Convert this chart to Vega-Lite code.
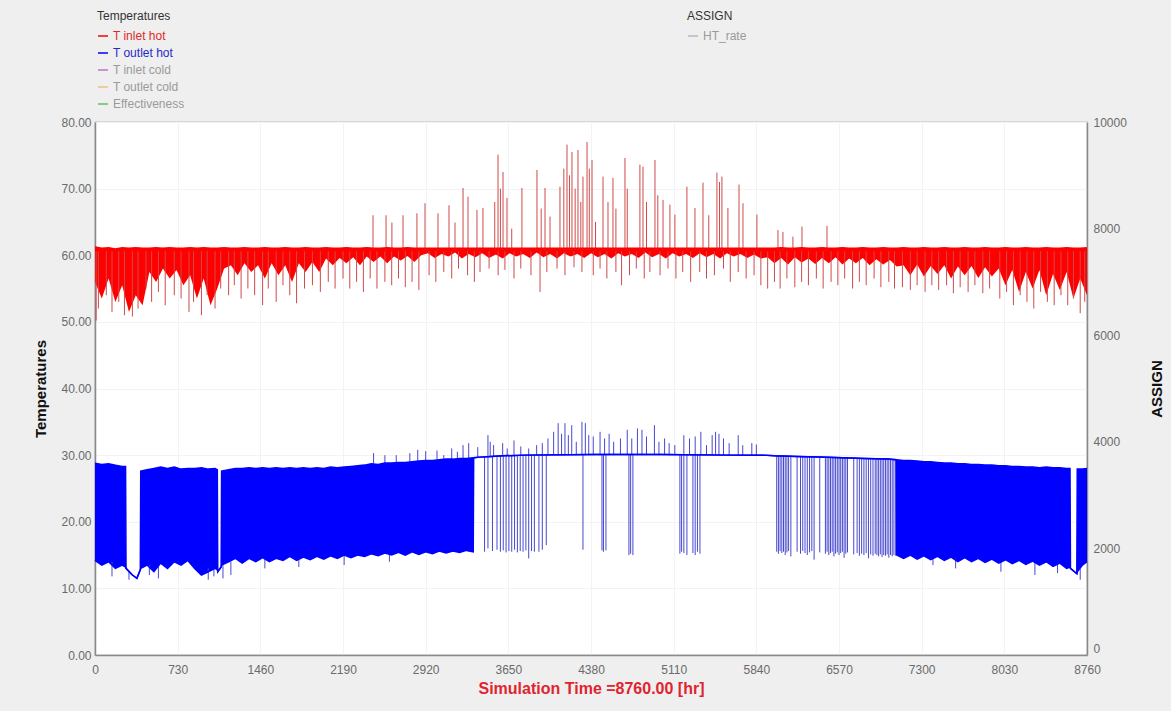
{
"$schema": "https://vega.github.io/schema/vega-lite/v6.json",
"width": 992, "height": 533,
"autosize": {"type": "none"},
"padding": {"left": 95, "top": 122, "right": 84, "bottom": 56},
"background": "#efefef",
"config": {
  "font": "Liberation Sans",
  "view": {"stroke": "#8a8a8a", "strokeWidth": 1.2, "fill": "white"},
  "axis": {"labelColor": "#6a6a6a", "labelFontSize": 12, "domainColor": "#8a8a8a", "domainWidth": 1.5, "ticks": false, "gridColor": "#f3f3f3", "titleFontWeight": "bold"},
  "axisX": {"grid": true, "labelPadding": 9, "titleColor": "#e0242f", "titleFontSize": 16, "titlePadding": 5},
  "axisLeft": {"titleFontSize": 15, "titleColor": "#111111", "labelPadding": 4, "titlePadding": 12, "grid": true},
  "axisRight": {"titleFontSize": 15, "titleColor": "#111111", "labelPadding": 6, "titlePadding": 38, "titleAngle": 270, "grid": false}
},
"datasets": {
"redBand": [
{"t":0,"lo":56.0,"hi":61.2},{"t":60,"lo":53.5,"hi":61.0},{"t":120,"lo":56.5,"hi":61.1},{"t":180,"lo":53.0,"hi":60.9},{"t":240,"lo":55.5,"hi":61.1},{"t":300,"lo":51.5,"hi":61.0},{"t":360,"lo":54.0,"hi":61.1},{"t":420,"lo":52.5,"hi":61.0},{"t":480,"lo":57.5,"hi":61.0},{"t":540,"lo":56.0,"hi":61.1},{"t":600,"lo":58.0,"hi":61.0},{"t":660,"lo":56.5,"hi":61.1},{"t":720,"lo":57.8,"hi":61.0},{"t":780,"lo":55.5,"hi":61.0},{"t":840,"lo":57.0,"hi":61.1},{"t":900,"lo":53.5,"hi":61.0},{"t":960,"lo":56.5,"hi":61.1},{"t":1020,"lo":52.5,"hi":61.0},{"t":1080,"lo":55.0,"hi":61.0},{"t":1140,"lo":58.0,"hi":61.1},{"t":1200,"lo":58.5,"hi":61.0},{"t":1260,"lo":57.0,"hi":61.0},{"t":1320,"lo":58.8,"hi":61.1},{"t":1380,"lo":57.5,"hi":61.0},{"t":1440,"lo":58.5,"hi":61.0},{"t":1500,"lo":56.5,"hi":61.1},{"t":1560,"lo":58.8,"hi":61.0},{"t":1620,"lo":57.0,"hi":61.0},{"t":1680,"lo":58.5,"hi":61.1},{"t":1740,"lo":56.0,"hi":61.0},{"t":1800,"lo":58.8,"hi":61.0},{"t":1860,"lo":57.5,"hi":61.1},{"t":1920,"lo":59.0,"hi":61.0},{"t":1980,"lo":57.5,"hi":61.0},{"t":2040,"lo":59.5,"hi":61.1},{"t":2100,"lo":58.5,"hi":61.0},{"t":2160,"lo":59.6,"hi":61.0},{"t":2220,"lo":58.8,"hi":61.1},{"t":2280,"lo":59.7,"hi":61.0},{"t":2340,"lo":58.5,"hi":61.0},{"t":2400,"lo":59.8,"hi":61.1},{"t":2460,"lo":59.0,"hi":61.0},{"t":2520,"lo":59.8,"hi":61.0},{"t":2580,"lo":58.8,"hi":61.1},{"t":2640,"lo":59.8,"hi":61.0},{"t":2700,"lo":59.2,"hi":61.0},{"t":2760,"lo":59.9,"hi":61.1},{"t":2820,"lo":59.0,"hi":61.0},{"t":2880,"lo":60.0,"hi":61.0},
{"t":2940,"lo":60.3,"hi":61.0},{"t":3000,"lo":59.6,"hi":61.0},{"t":3060,"lo":60.2,"hi":61.0},{"t":3120,"lo":59.8,"hi":61.0},{"t":3180,"lo":60.4,"hi":61.0},{"t":3240,"lo":59.5,"hi":61.0},{"t":3300,"lo":60.2,"hi":61.0},{"t":3360,"lo":59.7,"hi":61.0},{"t":3420,"lo":60.3,"hi":61.0},{"t":3480,"lo":59.6,"hi":61.0},{"t":3540,"lo":60.1,"hi":61.0},{"t":3600,"lo":59.5,"hi":61.0},{"t":3660,"lo":60.3,"hi":61.0},{"t":3720,"lo":59.8,"hi":61.0},{"t":3780,"lo":60.2,"hi":61.0},{"t":3840,"lo":59.6,"hi":61.0},{"t":3900,"lo":60.4,"hi":61.0},{"t":3960,"lo":59.7,"hi":61.0},{"t":4020,"lo":60.2,"hi":61.0},{"t":4080,"lo":59.5,"hi":61.0},{"t":4140,"lo":60.3,"hi":61.0},{"t":4200,"lo":59.8,"hi":61.0},{"t":4260,"lo":60.2,"hi":61.0},{"t":4320,"lo":59.6,"hi":61.0},{"t":4380,"lo":60.3,"hi":61.0},{"t":4440,"lo":59.7,"hi":61.0},{"t":4500,"lo":60.2,"hi":61.0},{"t":4560,"lo":59.5,"hi":61.0},{"t":4620,"lo":60.3,"hi":61.0},{"t":4680,"lo":59.8,"hi":61.0},{"t":4740,"lo":60.2,"hi":61.0},{"t":4800,"lo":59.6,"hi":61.0},{"t":4860,"lo":60.4,"hi":61.0},{"t":4920,"lo":59.7,"hi":61.0},{"t":4980,"lo":60.2,"hi":61.0},{"t":5040,"lo":59.5,"hi":61.0},{"t":5100,"lo":60.3,"hi":61.0},{"t":5160,"lo":59.8,"hi":61.0},{"t":5220,"lo":60.2,"hi":61.0},{"t":5280,"lo":59.6,"hi":61.0},{"t":5340,"lo":60.3,"hi":61.0},{"t":5400,"lo":59.7,"hi":61.0},{"t":5460,"lo":60.2,"hi":61.0},{"t":5520,"lo":59.5,"hi":61.0},{"t":5580,"lo":60.3,"hi":61.0},{"t":5640,"lo":59.8,"hi":61.0},{"t":5700,"lo":60.2,"hi":61.0},{"t":5760,"lo":59.6,"hi":61.0},{"t":5820,"lo":60.1,"hi":61.0},{"t":5880,"lo":59.5,"hi":61.0},
{"t":5940,"lo":59.7,"hi":61.0},{"t":6000,"lo":58.8,"hi":61.0},{"t":6060,"lo":59.6,"hi":61.1},{"t":6120,"lo":58.6,"hi":61.0},{"t":6180,"lo":59.7,"hi":61.0},{"t":6240,"lo":58.9,"hi":61.1},{"t":6300,"lo":59.5,"hi":61.0},{"t":6360,"lo":58.7,"hi":61.0},{"t":6420,"lo":59.6,"hi":61.1},{"t":6480,"lo":58.8,"hi":61.0},{"t":6540,"lo":59.7,"hi":61.0},{"t":6600,"lo":58.6,"hi":61.1},{"t":6660,"lo":59.5,"hi":61.0},{"t":6720,"lo":58.8,"hi":61.0},{"t":6780,"lo":59.6,"hi":61.1},{"t":6840,"lo":58.5,"hi":61.0},{"t":6900,"lo":59.4,"hi":61.0},{"t":6960,"lo":58.6,"hi":61.1},{"t":7020,"lo":59.3,"hi":61.0},{"t":7080,"lo":58.3,"hi":61.0},
{"t":7140,"lo":58.5,"hi":61.1},{"t":7200,"lo":57.0,"hi":61.0},{"t":7260,"lo":58.6,"hi":61.0},{"t":7320,"lo":56.8,"hi":61.1},{"t":7380,"lo":58.4,"hi":61.0},{"t":7440,"lo":57.2,"hi":61.0},{"t":7500,"lo":58.5,"hi":61.1},{"t":7560,"lo":56.5,"hi":61.0},{"t":7620,"lo":58.3,"hi":61.0},{"t":7680,"lo":57.0,"hi":61.1},{"t":7740,"lo":58.4,"hi":61.0},{"t":7800,"lo":56.6,"hi":61.0},{"t":7860,"lo":58.2,"hi":61.1},{"t":7920,"lo":56.8,"hi":61.0},{"t":7980,"lo":58.0,"hi":61.0},
{"t":8040,"lo":55.5,"hi":61.1},{"t":8100,"lo":57.8,"hi":61.0},{"t":8160,"lo":54.5,"hi":61.0},{"t":8220,"lo":57.5,"hi":61.1},{"t":8280,"lo":55.0,"hi":61.0},{"t":8340,"lo":57.8,"hi":61.0},{"t":8400,"lo":54.0,"hi":61.1},{"t":8460,"lo":57.2,"hi":61.0},{"t":8520,"lo":54.8,"hi":61.0},{"t":8580,"lo":57.5,"hi":61.1},{"t":8640,"lo":53.5,"hi":61.0},{"t":8700,"lo":56.5,"hi":61.0},{"t":8760,"lo":54.0,"hi":61.1}
],
"redSpikes": [
{"t":10,"a":60.6,"b":50.2},{"t":30,"a":60.6,"b":52.0},{"t":100,"a":60.6,"b":54.0},{"t":150,"a":60.6,"b":51.5},{"t":210,"a":60.6,"b":53.0},{"t":260,"a":60.6,"b":51.0},{"t":330,"a":60.6,"b":50.8},{"t":380,"a":60.6,"b":52.0},{"t":450,"a":60.6,"b":55.0},{"t":500,"a":60.6,"b":53.0},{"t":560,"a":60.6,"b":54.5},{"t":620,"a":60.6,"b":52.5},{"t":700,"a":60.6,"b":54.0},{"t":760,"a":60.6,"b":53.5},{"t":830,"a":60.6,"b":51.5},{"t":870,"a":60.6,"b":53.0},{"t":940,"a":60.6,"b":51.0},{"t":990,"a":60.6,"b":54.0},{"t":1060,"a":60.6,"b":52.0},{"t":1110,"a":60.6,"b":55.0},{"t":1180,"a":60.6,"b":54.0},{"t":1230,"a":60.6,"b":55.5},{"t":1290,"a":60.6,"b":53.5},{"t":1350,"a":60.6,"b":55.0},{"t":1410,"a":60.6,"b":54.0},{"t":1480,"a":60.6,"b":52.5},{"t":1530,"a":60.6,"b":55.0},{"t":1600,"a":60.6,"b":53.0},{"t":1660,"a":60.6,"b":55.5},{"t":1720,"a":60.6,"b":54.0},{"t":1780,"a":60.6,"b":52.8},{"t":1850,"a":60.6,"b":55.0},
{"t":1920,"a":60.6,"b":55.5},{"t":1990,"a":60.6,"b":54.5},{"t":2060,"a":60.6,"b":56.0},{"t":2120,"a":60.6,"b":55.0},{"t":2190,"a":60.6,"b":56.5},{"t":2250,"a":60.6,"b":55.0},{"t":2310,"a":60.6,"b":56.0},{"t":2370,"a":60.6,"b":54.5},{"t":2430,"a":60.6,"b":56.5},{"t":2490,"a":60.6,"b":55.0},{"t":2560,"a":60.6,"b":56.0},{"t":2620,"a":60.6,"b":55.5},{"t":2680,"a":60.6,"b":56.5},{"t":2740,"a":60.6,"b":55.2},{"t":2800,"a":60.6,"b":56.0},{"t":2860,"a":60.6,"b":54.8},
{"t":2950,"a":60.6,"b":57.0},{"t":3010,"a":60.6,"b":56.0},{"t":3080,"a":60.6,"b":57.5},{"t":3150,"a":60.6,"b":56.5},{"t":3210,"a":60.6,"b":58.0},{"t":3290,"a":60.6,"b":57.0},{"t":3350,"a":60.6,"b":56.0},{"t":3400,"a":60.6,"b":57.5},{"t":3480,"a":60.6,"b":58.0},{"t":3560,"a":60.6,"b":57.0},{"t":3620,"a":60.6,"b":57.8},{"t":3700,"a":60.6,"b":56.5},{"t":3760,"a":60.6,"b":58.0},{"t":3850,"a":60.6,"b":57.0},{"t":3930,"a":60.6,"b":54.5},{"t":3990,"a":60.6,"b":57.5},{"t":4080,"a":60.6,"b":58.0},{"t":4150,"a":60.6,"b":57.0},{"t":4230,"a":60.6,"b":58.2},{"t":4300,"a":60.6,"b":57.5},
{"t":4400,"a":60.6,"b":57.0},{"t":4460,"a":60.6,"b":58.0},{"t":4520,"a":60.6,"b":56.5},{"t":4600,"a":60.6,"b":57.5},{"t":4650,"a":60.6,"b":55.5},{"t":4720,"a":60.6,"b":57.0},{"t":4780,"a":60.6,"b":58.0},{"t":4850,"a":60.6,"b":56.5},{"t":4900,"a":60.6,"b":57.5},{"t":4990,"a":60.6,"b":57.0},{"t":5060,"a":60.6,"b":58.0},{"t":5130,"a":60.6,"b":56.5},{"t":5190,"a":60.6,"b":57.5},{"t":5260,"a":60.6,"b":56.0},{"t":5340,"a":60.6,"b":57.5},{"t":5400,"a":60.6,"b":56.5},{"t":5470,"a":60.6,"b":57.0},{"t":5550,"a":60.6,"b":58.0},{"t":5610,"a":60.6,"b":56.0},{"t":5680,"a":60.6,"b":57.5},{"t":5750,"a":60.6,"b":56.5},{"t":5820,"a":60.6,"b":57.0},
{"t":5880,"a":60.6,"b":55.5},{"t":5940,"a":60.6,"b":55.0},{"t":6000,"a":60.6,"b":56.0},{"t":6050,"a":60.6,"b":55.0},{"t":6110,"a":60.6,"b":56.5},{"t":6180,"a":60.6,"b":55.2},{"t":6240,"a":60.6,"b":56.0},{"t":6300,"a":60.6,"b":55.5},{"t":6370,"a":60.6,"b":56.5},{"t":6430,"a":60.6,"b":55.0},{"t":6500,"a":60.6,"b":56.0},{"t":6560,"a":60.6,"b":55.5},{"t":6620,"a":60.6,"b":56.5},{"t":6690,"a":60.6,"b":55.0},{"t":6750,"a":60.6,"b":56.0},{"t":6810,"a":60.6,"b":55.5},{"t":6880,"a":60.6,"b":56.5},{"t":6940,"a":60.6,"b":55.2},{"t":7010,"a":60.6,"b":56.0},{"t":7060,"a":60.6,"b":55.0},
{"t":7130,"a":60.6,"b":55.2},{"t":7200,"a":60.6,"b":54.8},{"t":7260,"a":60.6,"b":55.5},{"t":7330,"a":60.6,"b":54.5},{"t":7390,"a":60.6,"b":55.5},{"t":7450,"a":60.6,"b":54.8},{"t":7520,"a":60.6,"b":55.5},{"t":7580,"a":60.6,"b":54.3},{"t":7640,"a":60.6,"b":55.2},{"t":7710,"a":60.6,"b":54.5},{"t":7770,"a":60.6,"b":55.5},{"t":7840,"a":60.6,"b":54.3},{"t":7900,"a":60.6,"b":55.0},
{"t":7990,"a":60.6,"b":53.5},{"t":8050,"a":60.6,"b":54.5},{"t":8110,"a":60.6,"b":52.5},{"t":8170,"a":60.6,"b":54.0},{"t":8230,"a":60.6,"b":53.0},{"t":8290,"a":60.6,"b":52.0},{"t":8350,"a":60.6,"b":54.5},{"t":8410,"a":60.6,"b":53.0},{"t":8470,"a":60.6,"b":52.5},{"t":8530,"a":60.6,"b":54.0},{"t":8590,"a":60.6,"b":52.5},{"t":8640,"a":60.6,"b":53.5},{"t":8700,"a":60.6,"b":51.3},{"t":8740,"a":60.6,"b":53.0},
{"t":2455,"a":60.8,"b":66.0},{"t":2570,"a":60.8,"b":66.0},{"t":2622,"a":60.8,"b":64.9},{"t":2720,"a":60.8,"b":66.0},{"t":2843,"a":60.8,"b":66.3},{"t":2914,"a":60.8,"b":67.8},{"t":3029,"a":60.8,"b":66.3},{"t":3126,"a":60.8,"b":67.5},{"t":3179,"a":60.8,"b":64.9},{"t":3250,"a":60.8,"b":70.1},{"t":3294,"a":60.8,"b":68.8},{"t":3373,"a":60.8,"b":66.8},{"t":3426,"a":60.8,"b":67.1},{"t":3530,"a":60.8,"b":68.0},{"t":3559,"a":60.8,"b":75.1},{"t":3580,"a":60.8,"b":70.0},{"t":3603,"a":60.8,"b":72.5},{"t":3638,"a":60.8,"b":68.6},{"t":3680,"a":60.8,"b":64.0},{"t":3770,"a":60.8,"b":70.1},{"t":3903,"a":60.8,"b":72.8},{"t":3940,"a":60.8,"b":67.0},{"t":3974,"a":60.8,"b":70.1},{"t":4018,"a":60.8,"b":65.8},{"t":4106,"a":60.8,"b":70.3},{"t":4140,"a":60.8,"b":73.0},{"t":4168,"a":60.8,"b":76.6},{"t":4190,"a":60.8,"b":72.0},{"t":4212,"a":60.8,"b":75.5},{"t":4240,"a":60.8,"b":70.0},{"t":4265,"a":60.8,"b":75.8},{"t":4290,"a":60.8,"b":68.0},{"t":4309,"a":60.8,"b":71.8},{"t":4345,"a":60.8,"b":77.0},{"t":4365,"a":60.8,"b":73.0},{"t":4389,"a":60.8,"b":74.3},{"t":4420,"a":60.8,"b":65.0},{"t":4486,"a":60.8,"b":71.8},{"t":4530,"a":60.8,"b":68.0},{"t":4574,"a":60.8,"b":71.6},{"t":4600,"a":60.8,"b":67.0},{"t":4680,"a":60.8,"b":74.6},{"t":4700,"a":60.8,"b":70.0},{"t":4812,"a":60.8,"b":73.6},{"t":4839,"a":60.8,"b":73.3},{"t":4870,"a":60.8,"b":68.0},{"t":4945,"a":60.8,"b":74.3},{"t":4970,"a":60.8,"b":69.0},{"t":5016,"a":60.8,"b":68.3},{"t":5077,"a":60.8,"b":67.6},{"t":5121,"a":60.8,"b":66.1},{"t":5227,"a":60.8,"b":70.3},{"t":5298,"a":60.8,"b":67.1},{"t":5369,"a":60.8,"b":70.9},{"t":5420,"a":60.8,"b":66.0},{"t":5492,"a":60.8,"b":72.4},{"t":5515,"a":60.8,"b":71.0},{"t":5536,"a":60.8,"b":71.8},{"t":5589,"a":60.8,"b":67.1},{"t":5687,"a":60.8,"b":70.6},{"t":5722,"a":60.8,"b":67.8},{"t":5845,"a":60.8,"b":66.1},{"t":6031,"a":60.8,"b":63.8},{"t":6075,"a":60.8,"b":63.5},{"t":6163,"a":60.8,"b":62.8},{"t":6243,"a":60.8,"b":64.3},{"t":6464,"a":60.8,"b":64.4}
],
"blueBand": [
{"t":0,"lo":14.2,"hi":28.8},{"t":60,"lo":13.5,"hi":28.6},{"t":120,"lo":14.0,"hi":28.7},{"t":180,"lo":13.0,"hi":28.5},{"t":240,"lo":13.5,"hi":28.3},{"t":270,"lo":13.2,"hi":28.3},{"t":274,"lo":13.0,"hi":13.0},{"t":330,"lo":12.0,"hi":12.0},{"t":370,"lo":11.5,"hi":11.5},{"t":400,"lo":12.8,"hi":12.8},{"t":404,"lo":13.0,"hi":27.6},{"t":460,"lo":13.5,"hi":27.8},{"t":520,"lo":12.5,"hi":28.0},{"t":580,"lo":13.8,"hi":28.2},{"t":640,"lo":13.0,"hi":28.0},{"t":700,"lo":14.0,"hi":28.2},{"t":760,"lo":13.5,"hi":27.9},{"t":820,"lo":14.2,"hi":28.0},{"t":880,"lo":13.0,"hi":28.0},{"t":940,"lo":12.0,"hi":28.1},{"t":1000,"lo":12.5,"hi":27.9},{"t":1060,"lo":13.0,"hi":28.0},{"t":1080,"lo":12.8,"hi":27.8},{"t":1084,"lo":12.5,"hi":12.5},{"t":1114,"lo":13.2,"hi":13.2},{"t":1118,"lo":13.5,"hi":27.6},{"t":1180,"lo":14.0,"hi":27.8},{"t":1240,"lo":14.5,"hi":28.0},{"t":1300,"lo":13.8,"hi":28.0},{"t":1360,"lo":14.5,"hi":28.1},{"t":1420,"lo":14.0,"hi":28.0},{"t":1480,"lo":14.6,"hi":28.1},{"t":1540,"lo":14.0,"hi":28.0},{"t":1600,"lo":14.5,"hi":28.1},{"t":1660,"lo":14.2,"hi":28.0},{"t":1720,"lo":14.8,"hi":28.1},{"t":1780,"lo":14.2,"hi":28.0},{"t":1840,"lo":14.7,"hi":28.1},{"t":1900,"lo":14.3,"hi":28.0},{"t":1960,"lo":14.8,"hi":28.1},{"t":2020,"lo":14.4,"hi":28.0},{"t":2080,"lo":14.9,"hi":28.2},{"t":2140,"lo":14.5,"hi":28.1},{"t":2200,"lo":15.0,"hi":28.2},{"t":2260,"lo":14.6,"hi":28.3},{"t":2320,"lo":15.0,"hi":28.4},{"t":2380,"lo":14.8,"hi":28.5},{"t":2440,"lo":15.2,"hi":28.7},{"t":2500,"lo":14.9,"hi":28.6},{"t":2560,"lo":15.3,"hi":28.8},{"t":2620,"lo":15.0,"hi":28.8},{"t":2680,"lo":15.4,"hi":28.9},{"t":2740,"lo":15.0,"hi":28.9},{"t":2800,"lo":15.5,"hi":29.0},{"t":2860,"lo":15.1,"hi":29.1},{"t":2920,"lo":15.5,"hi":29.2},{"t":2980,"lo":15.2,"hi":29.2},{"t":3040,"lo":15.6,"hi":29.3},{"t":3100,"lo":15.3,"hi":29.4},{"t":3160,"lo":15.6,"hi":29.4},{"t":3220,"lo":15.4,"hi":29.5},{"t":3280,"lo":15.7,"hi":29.5},{"t":3340,"lo":15.5,"hi":29.6},{"t":3344,"lo":29.6,"hi":29.6},{"t":3400,"lo":29.7,"hi":29.7},{"t":3500,"lo":29.8,"hi":29.8},{"t":3600,"lo":29.9,"hi":29.9},{"t":3800,"lo":30.0,"hi":30.0},{"t":4400,"lo":30.1,"hi":30.1},{"t":5000,"lo":30.1,"hi":30.1},{"t":5600,"lo":30.0,"hi":30.0},{"t":5900,"lo":30.0,"hi":30.0},{"t":6000,"lo":29.9,"hi":29.9},{"t":6200,"lo":29.8,"hi":29.8},{"t":6400,"lo":29.7,"hi":29.7},{"t":6600,"lo":29.6,"hi":29.6},{"t":6800,"lo":29.5,"hi":29.5},{"t":7000,"lo":29.4,"hi":29.4},{"t":7076,"lo":29.3,"hi":29.3},{"t":7080,"lo":15.0,"hi":29.3},{"t":7140,"lo":14.5,"hi":29.2},{"t":7200,"lo":15.0,"hi":29.2},{"t":7260,"lo":14.4,"hi":29.1},{"t":7320,"lo":14.9,"hi":29.0},{"t":7380,"lo":14.3,"hi":29.0},{"t":7440,"lo":14.8,"hi":28.9},{"t":7500,"lo":14.2,"hi":28.8},{"t":7560,"lo":14.7,"hi":28.8},{"t":7620,"lo":14.0,"hi":28.7},{"t":7680,"lo":14.6,"hi":28.7},{"t":7740,"lo":14.0,"hi":28.6},{"t":7800,"lo":14.5,"hi":28.6},{"t":7860,"lo":13.9,"hi":28.5},{"t":7920,"lo":14.4,"hi":28.5},{"t":7980,"lo":13.8,"hi":28.4},{"t":8040,"lo":14.3,"hi":28.4},{"t":8100,"lo":13.7,"hi":28.3},{"t":8160,"lo":14.2,"hi":28.3},{"t":8220,"lo":13.6,"hi":28.2},{"t":8280,"lo":14.1,"hi":28.2},{"t":8340,"lo":13.5,"hi":28.1},{"t":8400,"lo":14.0,"hi":28.2},{"t":8460,"lo":13.3,"hi":28.1},{"t":8520,"lo":13.8,"hi":28.1},{"t":8580,"lo":13.0,"hi":28.0},{"t":8610,"lo":13.2,"hi":28.0},{"t":8614,"lo":13.0,"hi":13.0},{"t":8670,"lo":12.2,"hi":12.2},{"t":8674,"lo":12.5,"hi":27.9},{"t":8720,"lo":13.5,"hi":27.9},{"t":8760,"lo":14.0,"hi":28.0}
],
"blueSpikes": [
{"t":3250,"a":29.5,"b":31.5},{"t":3300,"a":29.5,"b":31.8},{"t":3380,"a":29.7,"b":31.2},{"t":3470,"a":29.8,"b":33.0},{"t":3490,"a":29.8,"b":32.0},{"t":3520,"a":29.8,"b":31.5},{"t":3600,"a":29.9,"b":31.8},{"t":3640,"a":29.9,"b":31.0},{"t":3700,"a":29.9,"b":32.2},{"t":3760,"a":29.9,"b":31.3},{"t":3830,"a":30.0,"b":31.0},{"t":3900,"a":30.0,"b":31.5},{"t":3950,"a":30.0,"b":31.8},{"t":4000,"a":30.0,"b":32.5},{"t":4050,"a":30.0,"b":33.5},{"t":4090,"a":30.0,"b":34.8},{"t":4120,"a":30.0,"b":33.2},{"t":4150,"a":30.0,"b":34.8},{"t":4180,"a":30.0,"b":33.0},{"t":4210,"a":30.0,"b":34.5},{"t":4250,"a":30.0,"b":32.0},{"t":4300,"a":30.0,"b":35.0},{"t":4330,"a":30.0,"b":34.8},{"t":4360,"a":30.0,"b":33.0},{"t":4400,"a":30.0,"b":32.8},{"t":4460,"a":30.0,"b":33.5},{"t":4500,"a":30.0,"b":32.5},{"t":4540,"a":30.0,"b":33.2},{"t":4580,"a":30.0,"b":32.0},{"t":4640,"a":30.0,"b":32.5},{"t":4700,"a":30.0,"b":33.8},{"t":4740,"a":30.0,"b":32.5},{"t":4790,"a":30.0,"b":34.0},{"t":4830,"a":30.0,"b":33.8},{"t":4870,"a":30.0,"b":32.8},{"t":4940,"a":30.0,"b":34.5},{"t":4980,"a":30.0,"b":32.0},{"t":5030,"a":30.0,"b":32.5},{"t":5070,"a":30.0,"b":31.8},{"t":5120,"a":30.0,"b":31.5},{"t":5200,"a":30.0,"b":33.0},{"t":5250,"a":30.0,"b":32.5},{"t":5300,"a":30.0,"b":32.8},{"t":5350,"a":30.0,"b":33.5},{"t":5400,"a":30.0,"b":31.5},{"t":5450,"a":30.0,"b":33.0},{"t":5480,"a":30.0,"b":33.5},{"t":5510,"a":30.0,"b":33.2},{"t":5550,"a":30.0,"b":32.5},{"t":5600,"a":30.0,"b":31.8},{"t":5680,"a":30.0,"b":33.0},{"t":5720,"a":30.0,"b":31.5},{"t":5800,"a":30.0,"b":31.8},{"t":5840,"a":30.0,"b":31.6},
{"t":2460,"a":28.7,"b":30.3},{"t":2560,"a":28.8,"b":30.0},{"t":2660,"a":28.9,"b":30.0},{"t":2780,"a":29.0,"b":30.3},{"t":2850,"a":29.1,"b":30.8},{"t":2920,"a":29.2,"b":30.6},{"t":3020,"a":29.3,"b":30.7},{"t":3080,"a":29.4,"b":30.0},{"t":3150,"a":29.4,"b":31.0},{"t":3200,"a":29.5,"b":30.5},
{"t":3440,"a":29.7,"b":15.5},{"t":3470,"a":29.8,"b":16.0},{"t":3510,"a":29.8,"b":15.6},{"t":3550,"a":29.8,"b":15.8},{"t":3580,"a":29.9,"b":15.5},{"t":3605,"a":29.9,"b":15.7},{"t":3630,"a":29.9,"b":15.4},{"t":3655,"a":29.9,"b":15.6},{"t":3680,"a":29.9,"b":15.5},{"t":3705,"a":29.9,"b":15.8},{"t":3730,"a":29.9,"b":15.4},{"t":3755,"a":29.9,"b":15.6},{"t":3780,"a":29.9,"b":15.5},{"t":3805,"a":30.0,"b":15.7},{"t":3830,"a":30.0,"b":14.5},{"t":3855,"a":30.0,"b":15.6},{"t":3880,"a":30.0,"b":15.5},{"t":3920,"a":30.0,"b":15.5},{"t":3950,"a":30.0,"b":15.8},{"t":3985,"a":30.0,"b":16.5},{"t":4309,"a":30.0,"b":15.8},{"t":4477,"a":30.1,"b":15.7},{"t":4490,"a":30.1,"b":15.5},{"t":4512,"a":30.1,"b":15.7},{"t":4715,"a":30.1,"b":15.0},{"t":4730,"a":30.1,"b":15.2},{"t":4750,"a":30.1,"b":15.0},{"t":5165,"a":30.1,"b":15.2},{"t":5180,"a":30.1,"b":15.5},{"t":5200,"a":30.1,"b":15.3},{"t":5227,"a":30.1,"b":15.0},{"t":5280,"a":30.1,"b":15.3},{"t":5300,"a":30.1,"b":15.0},{"t":5320,"a":30.1,"b":15.5},{"t":5342,"a":30.1,"b":15.2},
{"t":6020,"a":29.9,"b":15.5},{"t":6035,"a":29.9,"b":15.2},{"t":6050,"a":29.9,"b":15.6},{"t":6065,"a":29.9,"b":15.3},{"t":6080,"a":29.9,"b":15.5},{"t":6095,"a":29.9,"b":15.0},{"t":6110,"a":29.9,"b":15.4},{"t":6125,"a":29.9,"b":15.6},{"t":6145,"a":29.9,"b":14.8},{"t":6200,"a":29.8,"b":15.5},{"t":6230,"a":29.8,"b":15.2},{"t":6250,"a":29.8,"b":15.6},{"t":6270,"a":29.8,"b":15.3},{"t":6290,"a":29.8,"b":15.0},{"t":6310,"a":29.8,"b":15.4},{"t":6330,"a":29.8,"b":15.6},{"t":6350,"a":29.8,"b":14.3},{"t":6400,"a":29.7,"b":15.4},{"t":6450,"a":29.7,"b":15.2},{"t":6465,"a":29.7,"b":15.5},{"t":6480,"a":29.7,"b":15.0},{"t":6495,"a":29.7,"b":15.3},{"t":6510,"a":29.7,"b":15.5},{"t":6525,"a":29.7,"b":14.8},{"t":6540,"a":29.7,"b":15.2},{"t":6555,"a":29.7,"b":15.4},{"t":6570,"a":29.7,"b":15.0},{"t":6585,"a":29.6,"b":15.3},{"t":6600,"a":29.6,"b":15.5},{"t":6615,"a":29.6,"b":14.6},{"t":6630,"a":29.6,"b":15.2},{"t":6645,"a":29.6,"b":15.4},{"t":6700,"a":29.6,"b":15.1},{"t":6730,"a":29.5,"b":15.3},{"t":6750,"a":29.5,"b":14.9},{"t":6770,"a":29.5,"b":15.2},{"t":6790,"a":29.5,"b":15.0},{"t":6810,"a":29.5,"b":15.3},{"t":6830,"a":29.5,"b":14.5},{"t":6850,"a":29.5,"b":15.1},{"t":6870,"a":29.5,"b":14.9},{"t":6890,"a":29.5,"b":15.2},{"t":6905,"a":29.4,"b":15.0},{"t":6920,"a":29.4,"b":14.8},{"t":6935,"a":29.4,"b":15.1},{"t":6950,"a":29.4,"b":14.7},{"t":6965,"a":29.4,"b":15.0},{"t":6980,"a":29.4,"b":14.9},{"t":6995,"a":29.4,"b":15.1},{"t":7010,"a":29.4,"b":14.6},{"t":7025,"a":29.4,"b":15.0},{"t":7040,"a":29.4,"b":14.8},{"t":7055,"a":29.3,"b":15.0},{"t":7070,"a":29.3,"b":14.9},
{"t":150,"a":14.0,"b":11.8},{"t":300,"a":12.5,"b":11.3},{"t":480,"a":13.5,"b":12.0},{"t":560,"a":13.5,"b":11.5},{"t":1000,"a":13.0,"b":11.3},{"t":1050,"a":13.0,"b":11.8},{"t":1130,"a":13.5,"b":11.5},{"t":1200,"a":14.0,"b":12.0},{"t":1500,"a":14.5,"b":13.0},{"t":1800,"a":14.5,"b":13.2},{"t":2200,"a":15.0,"b":13.5},{"t":2600,"a":15.0,"b":14.0},{"t":7400,"a":14.5,"b":13.5},{"t":7600,"a":14.5,"b":13.0},{"t":8000,"a":14.0,"b":12.5},{"t":8300,"a":14.0,"b":12.0},{"t":8500,"a":13.8,"b":12.3},{"t":8700,"a":13.0,"b":11.3}
]
},
"layer": [
{"layer": [
  {"data": {"name": "redBand"}, "mark": {"type": "area", "color": "#ff0000"},
   "encoding": {
     "x": {"field": "t", "type": "quantitative", "title": "Simulation Time =8760.00 [hr]", "scale": {"domain": [0, 8760], "nice": false}, "axis": {"values": [0,730,1460,2190,2920,3650,4380,5110,5840,6570,7300,8030,8760], "format": "d", "labelFlush": false}},
     "y": {"field": "lo", "type": "quantitative", "title": "Temperatures", "scale": {"domain": [0, 80], "nice": false}, "axis": {"values": [0,10,20,30,40,50,60,70,80], "format": ".2f", "orient": "left"}},
     "y2": {"field": "hi"}}},
  {"data": {"name": "redSpikes"}, "mark": {"type": "rule", "color": "#cf4a4a", "strokeWidth": 1},
   "encoding": {
     "x": {"field": "t", "type": "quantitative", "title": "Simulation Time =8760.00 [hr]"},
     "y": {"field": "a", "type": "quantitative", "title": "Temperatures"},
     "y2": {"field": "b"}}},
  {"data": {"name": "redBand"}, "mark": {"type": "line", "strokeWidth": 2},
   "encoding": {
     "x": {"field": "t", "type": "quantitative", "title": "Simulation Time =8760.00 [hr]"},
     "y": {"field": "hi", "type": "quantitative", "title": "Temperatures"},
     "color": {"datum": "T inlet hot", "scale": {"domain": ["T inlet hot", "T outlet hot", "T inlet cold", "T outlet cold", "Effectiveness"], "range": ["#ff0000", "#0000ff", "#c070d0", "#f0c080", "#60c060"]},
       "legend": {"title": "Temperatures", "orient": "none", "legendX": 2, "legendY": -111, "symbolType": "stroke", "symbolSize": 100, "symbolStrokeWidth": 1.5, "labelFontSize": 12, "titleFontSize": 12, "titleFontWeight": "normal", "titleColor": "#333333", "titlePadding": 7, "rowPadding": 5,
         "labelColor": {"expr": "datum.label == 'T inlet hot' ? '#e02828' : datum.label == 'T outlet hot' ? '#2828c8' : '#9a9a9a'"}}}}},
  {"data": {"name": "blueBand"}, "mark": {"type": "area", "color": "#0000ff"},
   "encoding": {
     "x": {"field": "t", "type": "quantitative", "title": "Simulation Time =8760.00 [hr]"},
     "y": {"field": "lo", "type": "quantitative", "title": "Temperatures"},
     "y2": {"field": "hi"}}},
  {"data": {"name": "blueSpikes"}, "mark": {"type": "rule", "color": "#4848d0", "strokeWidth": 1},
   "encoding": {
     "x": {"field": "t", "type": "quantitative", "title": "Simulation Time =8760.00 [hr]"},
     "y": {"field": "a", "type": "quantitative", "title": "Temperatures"},
     "y2": {"field": "b"}}},
  {"data": {"name": "blueBand"}, "mark": {"type": "line", "strokeWidth": 1.5},
   "encoding": {
     "x": {"field": "t", "type": "quantitative", "title": "Simulation Time =8760.00 [hr]"},
     "y": {"field": "hi", "type": "quantitative", "title": "Temperatures"},
     "color": {"datum": "T outlet hot"}}},
  {"data": {"name": "blueBand"}, "mark": {"type": "line", "strokeWidth": 1.5},
   "encoding": {
     "x": {"field": "t", "type": "quantitative", "title": "Simulation Time =8760.00 [hr]"},
     "y": {"field": "lo", "type": "quantitative", "title": "Temperatures"},
     "color": {"datum": "T outlet hot"}}}
]},
{"data": {"values": []}, "mark": {"type": "line"},
 "encoding": {
   "x": {"field": "t", "type": "quantitative", "title": "Simulation Time =8760.00 [hr]"},
   "y": {"field": "HT_rate", "type": "quantitative", "title": "ASSIGN", "scale": {"domain": [0, 10000], "nice": false}, "axis": {"orient": "right", "values": [0,2000,4000,6000,8000,10000], "format": "d", "labelBaseline": {"condition": {"test": "datum.value == 0", "value": "bottom"}, "value": "middle"}}},
   "color": {"datum": "HT_rate", "scale": {"domain": ["HT_rate"], "range": ["#b8b8b8"]},
     "legend": {"title": "ASSIGN", "orient": "none", "legendX": 592, "legendY": -111, "symbolType": "stroke", "symbolSize": 100, "symbolStrokeWidth": 1.5, "labelFontSize": 12, "labelColor": "#9a9a9a", "titleFontSize": 12, "titleFontWeight": "normal", "titleColor": "#333333", "titlePadding": 7}}}}
],
"resolve": {"scale": {"y": "independent", "color": "independent"}}
}
